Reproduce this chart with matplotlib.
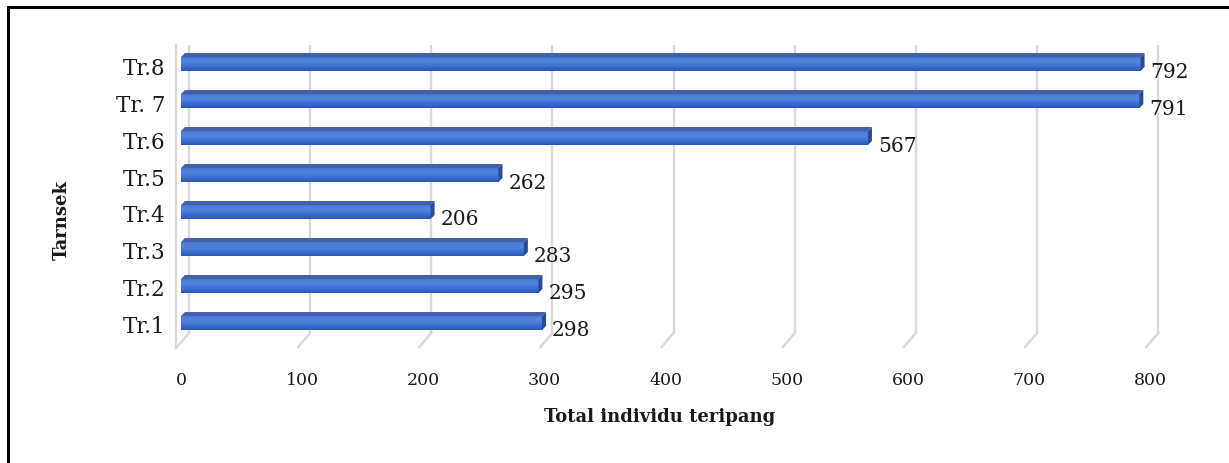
import numpy as np
import matplotlib
matplotlib.use('Agg')
import matplotlib.pyplot as plt
from matplotlib.patches import Polygon, Rectangle
from matplotlib.colors import LinearSegmentedColormap
from matplotlib.transforms import offset_copy

# data
categories = ['Tr.1', 'Tr.2', 'Tr.3', 'Tr.4', 'Tr.5', 'Tr.6', 'Tr. 7', 'Tr.8']
values = [298, 295, 283, 206, 262, 567, 791, 792]
x_ticks = [0, 100, 200, 300, 400, 500, 600, 700, 800]

W, H = 1229, 463
fig = plt.figure(figsize=(W / 100, H / 100), dpi=100)

# axes placed in pixel terms (left 170..1170, top 40..350)
ax = fig.add_axes([170 / W, (H - 350) / H, 1000 / W, 310 / H])
xmin, xmax = -9.08, 816.3
ymin, ymax = -0.676, 7.703
px_x = 1000 / (xmax - xmin)   # pixels per data unit on x
px_y = 310 / (ymax - ymin)    # pixels per data unit on y

serif = ['DejaVu Serif']

# back wall gridlines (3d look)
grid_col = '#d9d9d9'
back = offset_copy(ax.transData, fig=fig, x=8, y=0, units='dots')
y_top = 7.568
y_bot = -0.216
y_front = -0.595
for t in x_ticks:
    ax.plot([t, t], [y_top, y_bot], color=grid_col, lw=1.7, transform=back,
            solid_capstyle='butt', zorder=1)
    # diagonal from back to front
    x0 = t + 8 / px_x
    x1 = t - 4 / px_x
    ax.plot([x0, x1], [y_bot, y_front], color=grid_col, lw=1.7, zorder=1)
# left wall edge
ax.plot([-4.1, -4.1], [y_top, y_front - 0.02], color=grid_col, lw=1.7, zorder=1)

# bar gradient
cmap = LinearSegmentedColormap.from_list(
    'bar', ['#2a56b3', '#3366c9', '#3f74d6', '#4c82de', '#4f84dd', '#4677d3'])
grad = np.linspace(0, 1, 64).reshape(-1, 1)

h = 14 / px_y
dx = 4 / px_x
dy = 4 / px_y
for i, v in enumerate(values):
    y0 = i - h / 2 + 2 / px_y
    y1 = y0 + h
    ax.imshow(grad, extent=(0, v, y0, y1), origin='lower', aspect='auto',
              cmap=cmap, zorder=3, interpolation='bilinear')
    top = Polygon([(0, y1), (v, y1), (v + dx, y1 + dy), (dx, y1 + dy)],
                  closed=True, facecolor='#4461a8', edgecolor='none', zorder=4)
    side = Polygon([(v, y0), (v, y1), (v + dx, y1 + dy), (v + dx, y0 + dy)],
                   closed=True, facecolor='#2b4a92', edgecolor='none', zorder=4)
    ax.add_patch(top)
    ax.add_patch(side)
    ax.text(v + 10 / px_x, i - 6 / px_y, str(v), fontsize=14.5, family=serif,
            ha='left', va='center', color='#1a1a1a', zorder=5)

ax.set_xlim(xmin, xmax)
ax.set_ylim(ymin, ymax)
ax.set_autoscale_on(False)

ax.set_yticks(range(len(categories)), categories, fontsize=15.5, family=serif)
ax.set_xticks(x_ticks, [str(t) for t in x_ticks], fontsize=12.5, family=serif)
ax.tick_params(axis='both', length=0, colors='#1a1a1a')
ax.tick_params(axis='x', pad=16)
ax.tick_params(axis='y', pad=3)
for s in ax.spines.values():
    s.set_visible(False)
ax.patch.set_visible(False)

fig.text(660 / W, 1 - 417 / H, 'Total individu teripang', fontsize=13,
         fontweight='bold', family=serif, ha='center', va='center',
         color='#1a1a1a')
fig.text(62 / W, 1 - 220 / H, 'Tarnsek', fontsize=13, fontweight='bold',
         family=serif, ha='center', va='center', rotation=90, color='#1a1a1a')

# outer black border (runs off the right and bottom edge)
fig.patches.append(Rectangle((8 / W, -0.05), 1.1, 1 - 7 / H + 0.05,
                             transform=fig.transFigure, fill=False,
                             edgecolor='black', lw=2.2))

fig.savefig('out.png', dpi=100)
